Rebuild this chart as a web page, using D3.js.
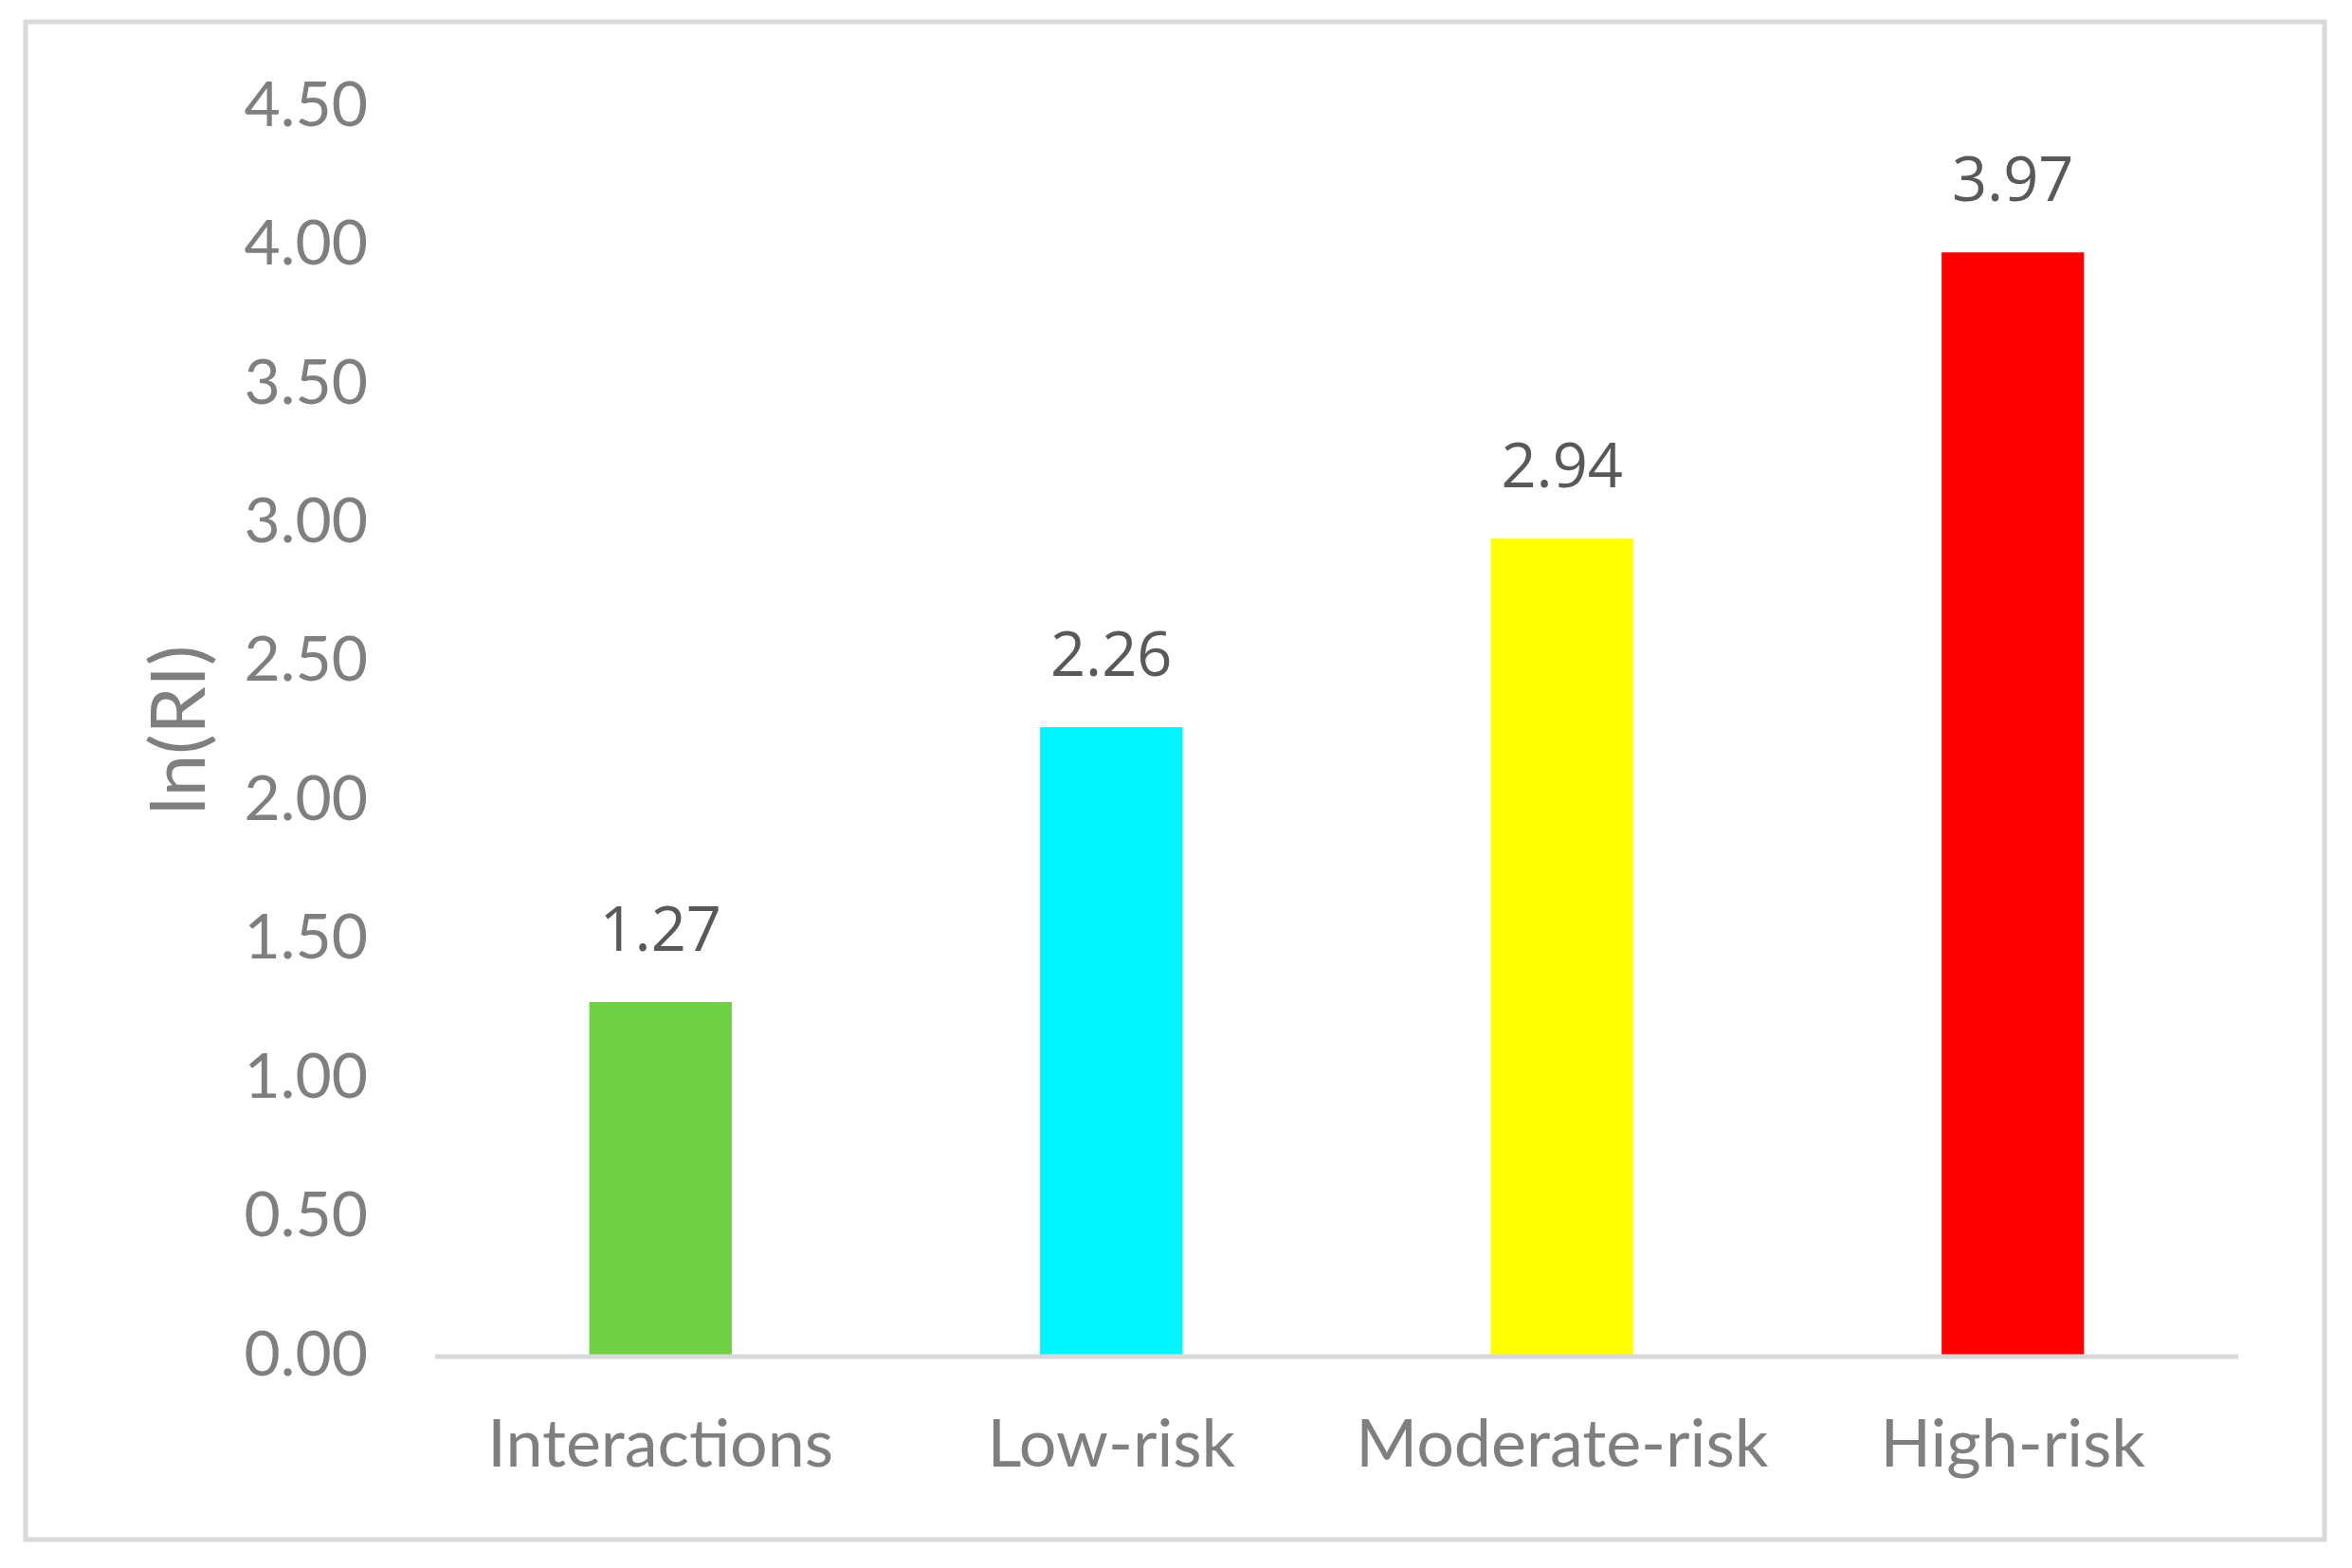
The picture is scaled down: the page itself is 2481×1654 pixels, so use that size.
<!DOCTYPE html>
<html><head><meta charset="utf-8">
<script src="https://cdn.jsdelivr.net/npm/d3@7"></script>
<style>body{margin:0;background:#fff}svg{display:block}</style>
</head><body>
<script>
const categories = ["Interactions", "Low-risk", "Moderate-risk", "High-risk"];
const values = [1.27, 2.26, 2.94, 3.97];
const colors = ["#6ed143", "#00f5ff", "#ffff00", "#ff0000"];
const yTicks = [0, 0.5, 1, 1.5, 2, 2.5, 3, 3.5, 4, 4.5];
const yTitle = "ln(RI)";

(function () {
const W = 2481, H = 1654;
const svg = d3.select("body").append("svg").attr("width", W).attr("height", H);
svg.append("rect").attr("width", W).attr("height", H).attr("fill", "#fff");
svg.append("rect").attr("x", 27).attr("y", 23).attr("width", 2425).attr("height", 1601)
  .attr("fill", "none").attr("stroke", "#d9d9d9").attr("stroke-width", 5);

const pl = 459, pr = 2361, pt = 111, pb = 1429;
const x = d3.scaleBand().domain(categories).range([pl, pr]).paddingInner(0.684).paddingOuter(0.342);
const y = d3.scaleLinear().domain([0, 4.5]).range([pb, pt]);

const font = "Lato, 'Open Sans', sans-serif";
const yAxis = svg.append("g").attr("transform", `translate(${pl},0)`)
  .call(d3.axisLeft(y).tickValues(yTicks).tickFormat(d3.format(".2f")).tickSize(0).tickPadding(71));
yAxis.select(".domain").remove();
yAxis.selectAll("text").attr("font-family", font).attr("font-size", 66).attr("fill", "#7f7f7f");

svg.selectAll("rect.bar").data(values).join("rect").attr("class", "bar")
  .attr("x", (d, i) => x(categories[i])).attr("width", x.bandwidth())
  .attr("y", d => y(d)).attr("height", d => y(0) - y(d))
  .attr("fill", (d, i) => colors[i]);

svg.append("line").attr("x1", pl).attr("x2", pr).attr("y1", y(0) + 2).attr("y2", y(0) + 2)
  .attr("stroke", "#d9d9d9").attr("stroke-width", 5);

const xAxis = svg.append("g").attr("transform", `translate(0,${pb})`)
  .call(d3.axisBottom(x).tickSize(0).tickPadding(68));
xAxis.select(".domain").remove();
xAxis.selectAll("text").attr("font-family", font).attr("font-size", 70).attr("fill", "#7f7f7f");

svg.selectAll("text.val").data(values).join("text").attr("class", "val")
  .attr("x", (d, i) => x(categories[i]) + x.bandwidth() / 2)
  .attr("y", d => y(d) - 54)
  .attr("text-anchor", "middle")
  .attr("font-family", "'Open Sans', sans-serif").attr("font-size", 65).attr("fill", "#595959")
  .text(d => d.toFixed(2));

svg.append("text").attr("transform", `translate(216,${(pt + pb) / 2}) rotate(-90)`)
  .attr("text-anchor", "middle")
  .attr("font-family", font).attr("font-size", 80).attr("fill", "#7f7f7f")
  .text(yTitle);
})();
</script>
</body></html>
